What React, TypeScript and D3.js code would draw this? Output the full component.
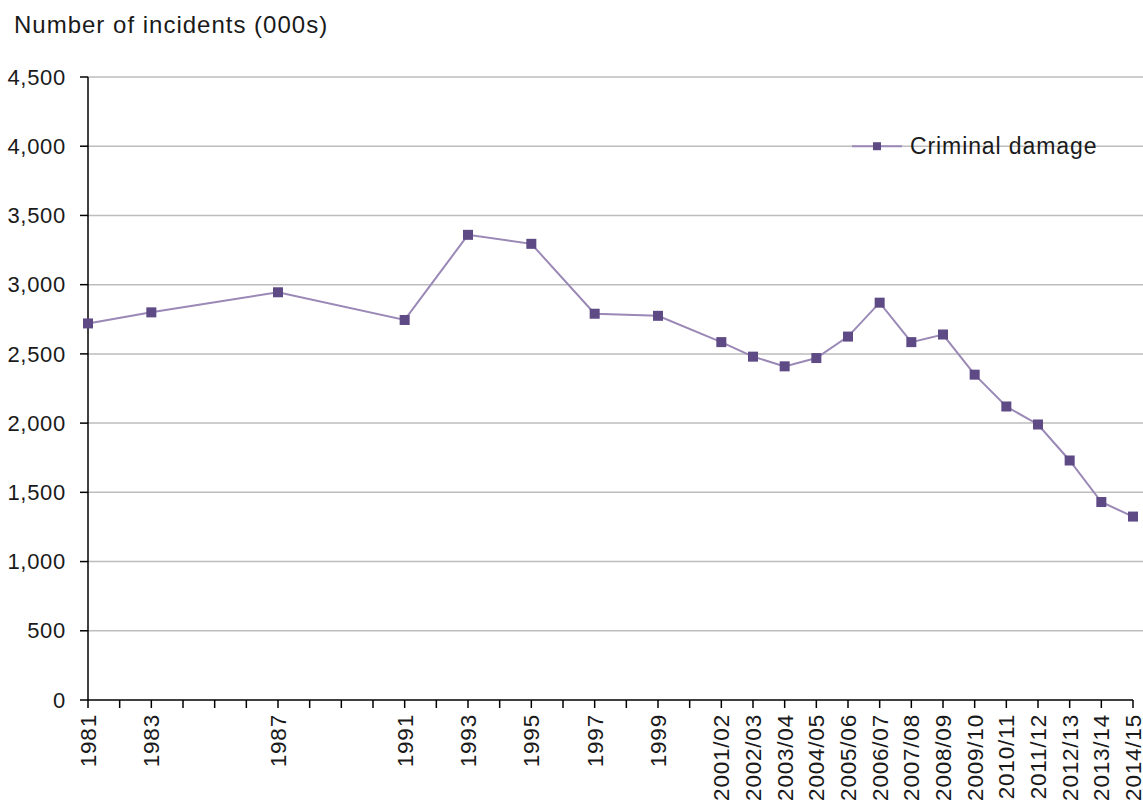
import React from "react";
import * as d3 from "d3";

const slots = [
  "1981","1982","1983","1984","1985","1986","1987","1988","1989","1990",
  "1991","1992","1993","1994","1995","1996","1997","1998","1999","2000",
  "2001/02","2002/03","2003/04","2004/05","2005/06","2006/07","2007/08",
  "2008/09","2009/10","2010/11","2011/12","2012/13","2013/14","2014/15",
];
const categories = [
  "1981","1983","1987","1991","1993","1995","1997","1999",
  "2001/02","2002/03","2003/04","2004/05","2005/06","2006/07","2007/08",
  "2008/09","2009/10","2010/11","2011/12","2012/13","2013/14","2014/15",
];
const criminalDamage = [
  2720, 2800, 2945, 2745, 3360, 3295, 2790, 2775,
  2585, 2480, 2410, 2470, 2625, 2870, 2585,
  2640, 2350, 2120, 1990, 1730, 1430, 1325,
];
const yTicks = [0, 500, 1000, 1500, 2000, 2500, 3000, 3500, 4000, 4500];
const seriesName = "Criminal damage";
const yTitle = "Number of incidents (000s)";

const W = 1143, H = 802;
const left = 88, right = 1133, top = 77, bottom = 700;
const font = "'Liberation Sans', Arial, sans-serif";
const textColor = "#1a1a1a";
const lineColor = "#9a88b6";
const markerColor = "#5e4a85";

export default function App() {
  const x = d3.scalePoint<string>().domain(slots).range([left, right]);
  const y = d3.scaleLinear().domain([0, 4500]).range([bottom, top]);
  const data = categories.map((c, i) => ({ c, v: criminalDamage[i] }));
  const line = d3.line<{ c: string; v: number }>()
    .x((d) => x(d.c) as number)
    .y((d) => y(d.v));
  const fmt = d3.format(",");
  const ms = 10;

  return (
    <svg width={W} height={H} style={{ position: "absolute", left: 0, top: 0, background: "#fff" }}
      fontFamily={font}>
      <text x={14} y={33} fontSize={24} letterSpacing={1} fill={textColor}>{yTitle}</text>
      {yTicks.filter((t) => t > 0).map((t) => (
        <line key={"g" + t} x1={left} x2={W} y1={y(t)} y2={y(t)} stroke="#bdbdbd" strokeWidth={1.5} />
      ))}
      {yTicks.map((t) => (
        <g key={"y" + t}>
          <line x1={left - 8} x2={left} y1={y(t)} y2={y(t)} stroke="#000" strokeWidth={1.5} />
          <text x={66} y={y(t)} dy="0.35em" textAnchor="end" fontSize={22} letterSpacing={0.7} fill={textColor}>{fmt(t)}</text>
        </g>
      ))}
      <line x1={left} x2={left} y1={top} y2={bottom} stroke="#000" strokeWidth={1.5} />
      <line x1={left} x2={right} y1={bottom} y2={bottom} stroke="#000" strokeWidth={1.5} />
      {slots.map((s) => (
        <line key={"t" + s} x1={x(s)} x2={x(s)} y1={bottom} y2={bottom + 8} stroke="#000" strokeWidth={1.5} />
      ))}
      {categories.map((c) => (
        <text key={"l" + c} transform={`translate(${x(c)},714) rotate(-90)`} textAnchor="end"
          dy="0.35em" fontSize={22.5} letterSpacing={0.8} fill={textColor}>{c}</text>
      ))}
      <path d={line(data) || ""} fill="none" stroke={lineColor} strokeWidth={2} />
      {data.map((d) => (
        <rect key={"m" + d.c} x={(x(d.c) as number) - ms / 2} y={y(d.v) - ms / 2} width={ms} height={ms} fill={markerColor} />
      ))}
      <g>
        <line x1={852} x2={902} y1={y(4000)} y2={y(4000)} stroke={lineColor} strokeWidth={2} />
        <rect x={877 - 4} y={y(4000) - 4} width={8} height={8} fill={markerColor} />
        <text x={910} y={y(4000)} dy="0.35em" fontSize={23} letterSpacing={0.9} fill={textColor}>{seriesName}</text>
      </g>
    </svg>
  );
}
